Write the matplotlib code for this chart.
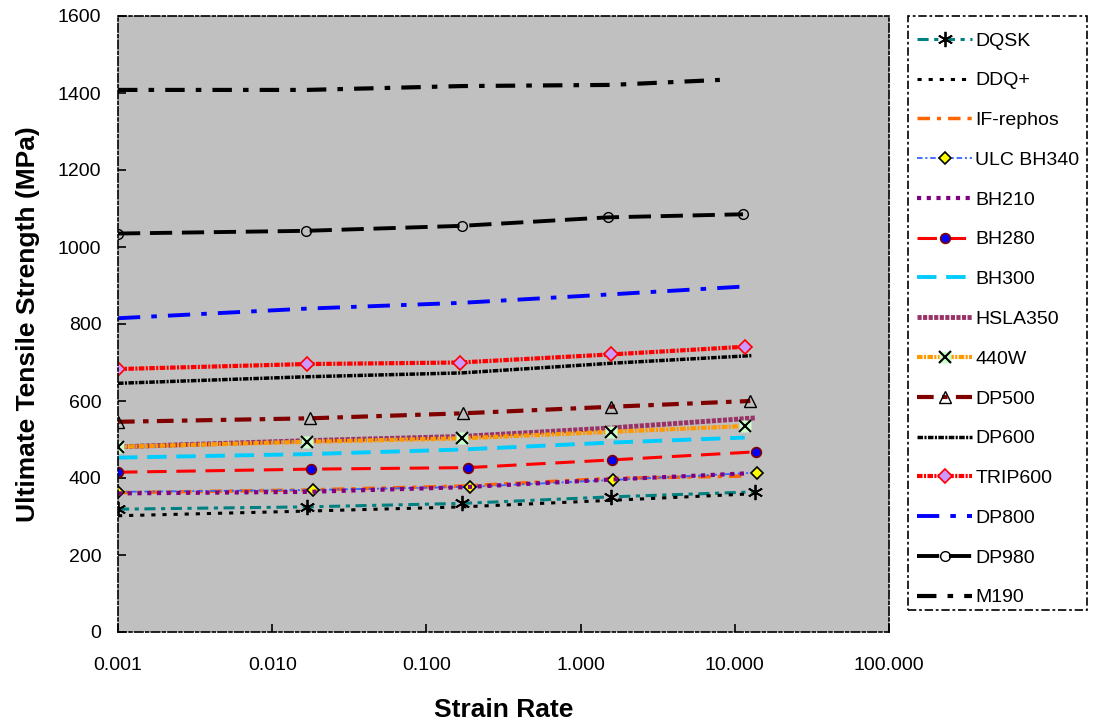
import matplotlib
matplotlib.use("Agg")
import matplotlib.pyplot as plt
from matplotlib.legend_handler import HandlerTuple
from matplotlib.patches import Rectangle

plt.rcParams['font.family'] = ['Liberation Sans', 'DejaVu Sans']
plt.rcParams['lines.scale_dashes'] = False

# ---- data ----
series_names = ["DQSK", "DDQ+", "IF-rephos", "ULC BH340", "BH210", "BH280", "BH300",
                "HSLA350", "440W", "DP500", "DP600", "TRIP600", "DP800", "DP980", "M190"]

x_dqsk = [0.001, 0.0168, 0.17, 1.57, 13.5]
y_dqsk = [319, 325, 334, 351, 364]
x_ddq = [0.001, 0.0168, 0.17, 1.57, 11.6]
y_ddq = [302, 314, 325, 342, 358]
x_ifr = [0.001, 0.0168, 0.17, 1.57, 11.1]
y_ifr = [362, 369, 379, 399, 405]
x_ulc = [0.001, 0.0184, 0.192, 1.62, 13.9]
y_ulc = [364, 369, 377, 395, 414]
x_bh210 = [0.001, 0.0168, 0.17, 1.57, 11.9]
y_bh210 = [360, 364, 376, 396, 412]
x_bh280 = [0.001, 0.0179, 0.186, 1.6, 13.7]
y_bh280 = [415, 423, 427, 447, 468]
x_bh300 = [0.001, 0.0168, 0.17, 1.57, 11.6]
y_bh300 = [453, 462, 474, 492, 505]
x_hsla = [0.001, 0.0168, 0.17, 1.57, 13.5]
y_hsla = [481, 497, 508, 530, 556]
x_440w = [0.001, 0.0168, 0.17, 1.57, 11.7]
y_440w = [481, 494, 503, 520, 535]
x_dp500 = [0.001, 0.0175, 0.172, 1.57, 12.6]
y_dp500 = [546, 555, 568, 585, 600]
x_dp600 = [0.001, 0.0168, 0.17, 1.57, 13.0]
y_dp600 = [646, 663, 673, 698, 718]
x_trip = [0.001, 0.0168, 0.165, 1.57, 11.7]
y_trip = [683, 696, 700, 721, 741]
x_dp800 = [0.001, 0.0168, 0.17, 1.57, 11.1]
y_dp800 = [815, 840, 855, 877, 897]
x_dp980 = [0.001, 0.0165, 0.17, 1.5, 11.3]
y_dp980 = [1035, 1042, 1055, 1077, 1085]
x_m190 = [0.001, 0.0168, 0.17, 1.57, 8.0]
y_m190 = [1408, 1408, 1418, 1421, 1434]

xtick_vals = [0.001, 0.01, 0.1, 1, 10, 100]
xtick_labels = ["0.001", "0.010", "0.100", "1.000", "10.000", "100.000"]
ytick_vals = [0, 200, 400, 600, 800, 1000, 1200, 1400, 1600]

W, H = 1095, 721
fig = plt.figure(figsize=(W/100, H/100), dpi=100)
ax = fig.add_axes([118/W, 89/H, 771/W, 616/H])
ax.set_facecolor('#C0C0C0')

h = {}
h["DQSK"], = ax.plot(x_dqsk, y_dqsk, color='#008080', lw=2.2, dashes=(8, 4, 3, 4),
                     marker=(6, 2, 0), ms=11, mec='black', mew=1.3)
h["DDQ+"], = ax.plot(x_ddq, y_ddq, color='black', lw=2.2, dashes=(3, 5))
h["IF-rephos"], = ax.plot(x_ifr, y_ifr, color='#FF6600', lw=2.5, dashes=(9, 5, 3, 5))
h["ULC BH340"], = ax.plot(x_ulc, y_ulc, color='#3366FF', lw=1.3, dashes=(4, 2, 1.5, 2),
                          marker='D', ms=6, mfc='#FFFF00', mec='black', mew=1.2)
h["BH210"], = ax.plot(x_bh210, y_bh210, color='#800080', lw=3, dashes=(3, 4))
h["BH280"], = ax.plot(x_bh280, y_bh280, color='#FF0000', lw=2.2, dashes=(14, 7),
                      marker='o', ms=7, mfc='#0000FF', mec='#800000', mew=1.2)
h["BH300"], = ax.plot(x_bh300, y_bh300, color='#00CCFF', lw=2.8, dashes=(14, 7))
h["HSLA350"], = ax.plot(x_hsla, y_hsla, color='#993366', lw=3.5, dashes=(3, 1))
l440, = ax.plot(x_440w, y_440w, color='#FF9900', lw=3, dashes=(4, 1, 1.5, 1),
                marker='s', ms=8, mfc='#CCFFCC', mec='none')
m440, = ax.plot(x_440w, y_440w, ls='none', marker='x', ms=8, mec='black', mew=1.5)
h["440W"] = (l440, m440)
h["DP500"], = ax.plot(x_dp500, y_dp500, color='#800000', lw=3, dashes=(12, 6, 4, 6),
                      marker='^', ms=8, mfc='none', mec='black', mew=1.0)
h["DP600"], = ax.plot(x_dp600, y_dp600, color='black', lw=2.5, dashes=(4, 1, 1.5, 1))
h["TRIP600"], = ax.plot(x_trip, y_trip, color='#FF0000', lw=3, dashes=(4, 1, 1.5, 1),
                        marker='D', ms=7, mfc='#CC99FF', mec='#FF0000', mew=1.2)
h["DP800"], = ax.plot(x_dp800, y_dp800, color='#0000FF', lw=2.8, dashes=(16, 8, 4, 8))
h["DP980"], = ax.plot(x_dp980, y_dp980, color='black', lw=2.8, dashes=(16, 7),
                      marker='o', ms=7, mfc='none', mec='black', mew=1.0)
h["M190"], = ax.plot(x_m190, y_m190, color='black', lw=3, dashes=(14, 8, 4, 8))

ax.set_xscale('log')
ax.set_xlim(0.001, 100)
ax.set_ylim(0, 1600)
ax.set_xticks(xtick_vals)
ax.set_xticklabels(xtick_labels)
ax.minorticks_off()
ax.set_yticks(ytick_vals)
ax.tick_params(axis='both', direction='in', length=6, width=1.2, labelsize=14, color='black')
ax.tick_params(axis='x', pad=18)
ax.tick_params(axis='y', pad=12)

for sp in ax.spines.values():
    sp.set_linestyle((0, (6, 2, 2, 2)))
    sp.set_linewidth(1.2)
    sp.set_color('black')

ax.set_xlabel('Strain Rate', fontsize=19, fontweight='bold', labelpad=17)
ax.set_ylabel('Ultimate Tensile Strength (MPa)', fontsize=19, fontweight='bold', labelpad=13)

# legend frame drawn separately (dash-dot border)
frame = Rectangle((908/W, (H-610)/H), 179/W, 594/H, transform=fig.transFigure,
                  facecolor='white', edgecolor='black', lw=1.2,
                  linestyle=(0, (6, 2, 2, 2)), zorder=1)
fig.add_artist(frame)

leg = fig.legend([h[n] for n in series_names], series_names,
                 loc='upper left', bbox_to_anchor=(917/W, 1 - 32/H),
                 bbox_transform=fig.transFigure,
                 fontsize=14, numpoints=1, handlelength=2.85, handletextpad=0.15,
                 labelspacing=1.14, borderpad=0, borderaxespad=0,
                 frameon=False,
                 handler_map={tuple: HandlerTuple(ndivide=1)})
leg.set_zorder(2)

fig.savefig('out.png', dpi=100)
